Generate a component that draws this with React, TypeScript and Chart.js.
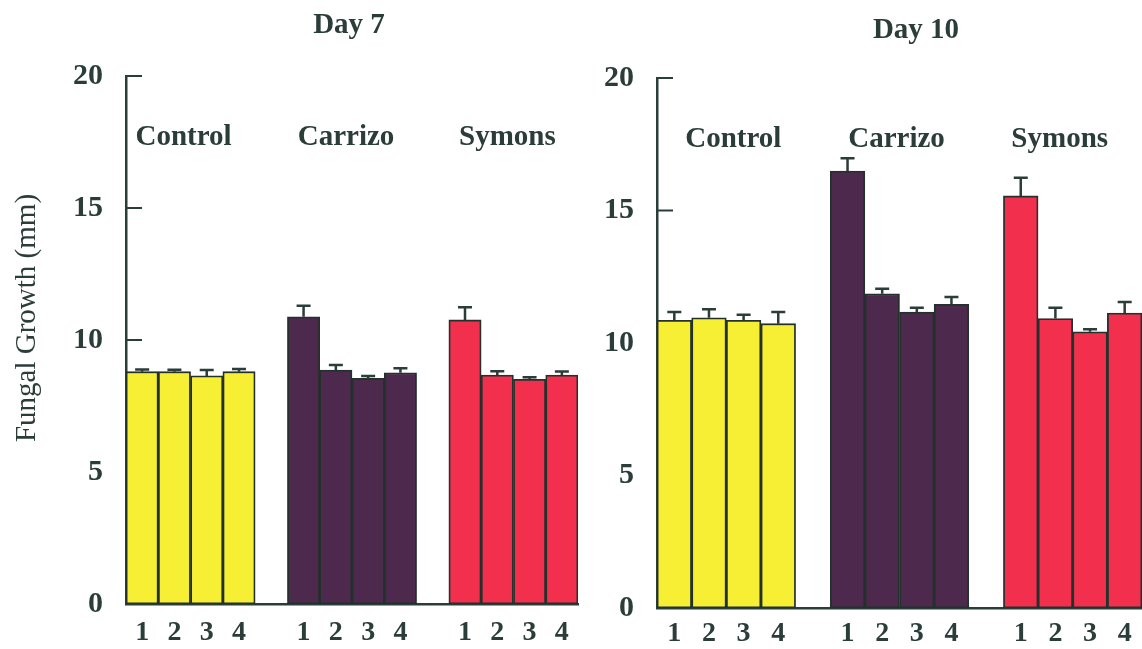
import React, { useEffect, useRef } from "react";
import { Chart, registerables } from "chart.js";

Chart.register(...registerables);

// Fungal growth (mm) per plant 1-4, for each treatment group
const plantLabels = ["1", "2", "3", "4"];
const groupNames = ["Control", "Carrizo", "Symons"];
const yTickValues = [0, 5, 10, 15, 20];

const day7Control = [8.8, 8.8, 8.64, 8.8];
const day7ControlErr = [0.08, 0.07, 0.22, 0.1];
const day7Carrizo = [10.88, 8.86, 8.55, 8.76];
const day7CarrizoErr = [0.42, 0.19, 0.09, 0.17];
const day7Symons = [10.76, 8.67, 8.51, 8.67];
const day7SymonsErr = [0.48, 0.15, 0.08, 0.14];

const day10Control = [10.86, 10.95, 10.86, 10.73];
const day10ControlErr = [0.31, 0.32, 0.21, 0.44];
const day10Carrizo = [16.49, 11.86, 11.17, 11.46];
const day10CarrizoErr = [0.48, 0.19, 0.16, 0.28];
const day10Symons = [15.55, 10.92, 10.42, 11.13];
const day10SymonsErr = [0.69, 0.41, 0.1, 0.42];

const groupColors = ["#f7ef33", "#4c294d", "#f2304e"];
const inkColor = "#2b3d39";
const serif = "'Liberation Serif', 'Times New Roman', serif";

// three groups of four bars with an empty slot between groups
function withGaps<T>(a: T[], b: T[], c: T[]): (T | null)[] {
  return [...a, null, ...b, null, ...c];
}

const slotLabels = withGaps(plantLabels, plantLabels, plantLabels).map((l) => l ?? "");

type PanelOpts = {
  title: string;
  titleX: number;
  titleBaseline: number;
  yAxisWidth: number;
  yTitle: boolean;
  padTop: number;
  padRight: number;
  xAxisHeight: number;
  xLabelPad: number;
  labelShift: number[];
  values: (number | null)[];
  errors: (number | null)[];
};

const panelPlugin = {
  id: "panelDecor",
  beforeDatasetsDraw(chart: any) {
    const { ctx, chartArea, scales } = chart;
    const y = scales.y;
    ctx.save();
    ctx.strokeStyle = inkColor;
    ctx.lineWidth = 2;
    for (const v of yTickValues) {
      const py = y.getPixelForValue(v);
      ctx.beginPath();
      ctx.moveTo(chartArea.left, py);
      ctx.lineTo(chartArea.left + 16, py);
      ctx.stroke();
    }
    ctx.restore();
  },
  afterDatasetsDraw(chart: any, _args: any, opts: any) {
    const { ctx, scales } = chart;
    const y = scales.y;
    const meta = chart.getDatasetMeta(0);
    const values: (number | null)[] = opts.values;
    const errors: (number | null)[] = opts.errors;
    ctx.save();
    ctx.strokeStyle = inkColor;
    ctx.lineWidth = 2.5;
    values.forEach((v, i) => {
      const e = errors[i];
      if (v == null || e == null) return;
      const bar = meta.data[i];
      const top = y.getPixelForValue(v + e);
      ctx.beginPath();
      ctx.moveTo(bar.x, bar.y);
      ctx.lineTo(bar.x, top);
      ctx.moveTo(bar.x - 7, top);
      ctx.lineTo(bar.x + 7, top);
      ctx.stroke();
    });

    // group names across the top of each group
    ctx.fillStyle = inkColor;
    ctx.font = `bold 29px ${serif}`;
    ctx.textAlign = "center";
    ctx.textBaseline = "alphabetic";
    groupNames.forEach((name, g) => {
      const a = meta.data[g * 5];
      const b = meta.data[g * 5 + 3];
      ctx.fillText(name, (a.x + b.x) / 2 + opts.labelShift[g], y.getPixelForValue(17.38));
    });
    ctx.restore();
  },
  afterDraw(chart: any, _args: any, opts: any) {
    const { ctx } = chart;
    ctx.save();
    ctx.fillStyle = inkColor;
    ctx.font = `bold 29px ${serif}`;
    ctx.textAlign = "center";
    ctx.textBaseline = "alphabetic";
    ctx.fillText(opts.title, opts.titleX, opts.titleBaseline);
    if (opts.yTitle) {
      ctx.font = `29px ${serif}`;
      ctx.translate(27, 318);
      ctx.rotate(-Math.PI / 2);
      ctx.textBaseline = "middle";
      ctx.fillText("Fungal Growth (mm)", 0, 0);
    }
    ctx.restore();
  },
};

function makePanel(canvas: HTMLCanvasElement, p: PanelOpts) {
  const colors = withGaps(
    Array(4).fill(groupColors[0]),
    Array(4).fill(groupColors[1]),
    Array(4).fill(groupColors[2])
  ).map((c) => c ?? "rgba(0,0,0,0)");

  return new Chart(canvas, {
    type: "bar",
    data: {
      labels: slotLabels,
      datasets: [
        {
          data: p.values,
          backgroundColor: colors,
          borderColor: "#23302c",
          borderWidth: 1.8,
          borderSkipped: false,
          barPercentage: 1,
          categoryPercentage: 1,
        },
      ],
    },
    options: {
      responsive: false,
      animation: false,
      layout: { padding: { top: p.padTop, right: p.padRight, left: 0, bottom: 0 } },
      plugins: {
        legend: { display: false },
        tooltip: { enabled: false },
        panelDecor: {
          title: p.title,
          titleX: p.titleX,
          titleBaseline: p.titleBaseline,
          yTitle: p.yTitle,
          labelShift: p.labelShift,
          values: p.values,
          errors: p.errors,
        },
      } as any,
      scales: {
        x: {
          grid: { display: false, drawTicks: false },
          border: { display: true, color: inkColor, width: 2.5 },
          ticks: {
            color: inkColor,
            font: { family: serif, size: 28, weight: "bold" },
            padding: p.xLabelPad,
            maxRotation: 0,
            autoSkip: false,
          },
          afterFit: (s: any) => {
            s.height = p.xAxisHeight;
          },
        },
        y: {
          min: 0,
          max: 20,
          grid: { display: false, drawTicks: false },
          border: { display: true, color: inkColor, width: 2.5 },
          ticks: {
            stepSize: 5,
            color: inkColor,
            font: { family: serif, size: 30, weight: "bold" },
            padding: 23,
          },
          afterFit: (s: any) => {
            s.width = p.yAxisWidth;
          },
        },
      },
    },
    plugins: [panelPlugin],
  });
}

function Panel(props: { left: number; width: number; opts: PanelOpts }) {
  const ref = useRef<HTMLCanvasElement>(null);
  useEffect(() => {
    if (!ref.current) return;
    const chart = makePanel(ref.current, props.opts);
    return () => chart.destroy();
  }, []);
  return (
    <canvas
      ref={ref}
      width={props.width}
      height={649}
      style={{ position: "absolute", left: props.left, top: 0, width: props.width, height: 649 }}
    />
  );
}

const day7Opts: PanelOpts = {
  title: "Day 7",
  titleX: 349,
  titleBaseline: 33,
  yAxisWidth: 126,
  yTitle: true,
  padTop: 76,
  padRight: 12,
  xAxisHeight: 45,
  xLabelPad: 12,
  labelShift: [-7, -6, -6],
  values: withGaps(day7Control, day7Carrizo, day7Symons),
  errors: withGaps(day7ControlErr, day7CarrizoErr, day7SymonsErr),
};

const day10Opts: PanelOpts = {
  title: "Day 10",
  titleX: 326,
  titleBaseline: 38,
  yAxisWidth: 67,
  yTitle: false,
  padTop: 78,
  padRight: 0,
  xAxisHeight: 38,
  xLabelPad: 9,
  labelShift: [7, -3, -13],
  values: withGaps(day10Control, day10Carrizo, day10Symons),
  errors: withGaps(day10ControlErr, day10CarrizoErr, day10SymonsErr),
};

export default function App() {
  return (
    <div
      style={{
        position: "fixed",
        left: 0,
        top: 0,
        width: 1142,
        height: 649,
        background: "#ffffff",
        overflow: "hidden",
      }}
    >
      <Panel left={0} width={590} opts={day7Opts} />
      <Panel left={590} width={552} opts={day10Opts} />
    </div>
  );
}
